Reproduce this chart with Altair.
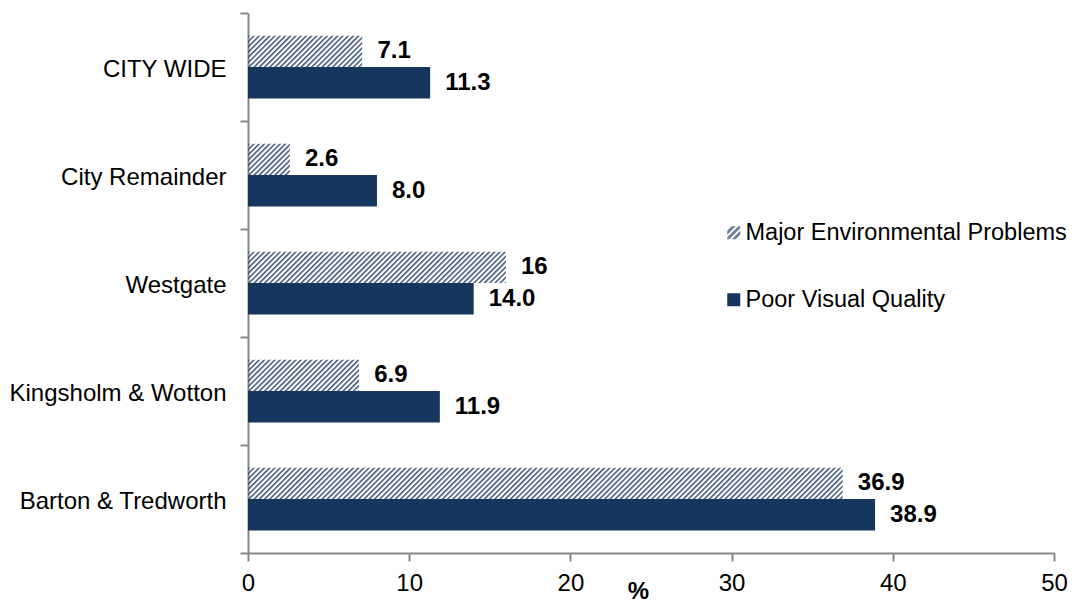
import base64
import altair as alt
import pandas as pd

# ---- data ----
areas = ["CITY WIDE", "City Remainder", "Westgate", "Kingsholm & Wotton", "Barton & Tredworth"]
series = ["Major Environmental Problems", "Poor Visual Quality"]
major_values = [7.1, 2.6, 16, 6.9, 36.9]
poor_values = [11.3, 8.0, 14.0, 11.9, 38.9]
major_labels = ["7.1", "2.6", "16", "6.9", "36.9"]
poor_labels = ["11.3", "8.0", "14.0", "11.9", "38.9"]
x_ticks = [0, 10, 20, 30, 40, 50]

rows = []
for a, v, l in zip(areas, major_values, major_labels):
    rows.append({"area": a, "series": series[0], "value": v, "label": l})
for a, v, l in zip(areas, poor_values, poor_labels):
    rows.append({"area": a, "series": series[1], "value": v, "label": l})
df = pd.DataFrame(rows)

FONT = "Liberation Sans"
NAVY = "#17365d"
GREY = "#888888"
HATCH_COLOR = "#3a5075"

# diagonal hatch drawn as an svg image that fills the bar box without scaling
hatch_svg = (
    "<svg xmlns='http://www.w3.org/2000/svg' width='100%' height='100%'>"
    "<defs><pattern id='h' width='3.7' height='10' patternUnits='userSpaceOnUse' "
    "patternTransform='rotate(45)'>"
    f"<rect x='0' y='0' width='1.5' height='10' fill='{HATCH_COLOR}'/></pattern></defs>"
    "<rect width='100%' height='100%' fill='url(#h)'/></svg>"
)
hatch_url = "data:image/svg+xml;base64," + base64.b64encode(hatch_svg.encode()).decode()

# legend symbol: three diagonal stripes in a unit square
hatch_path = (
    "M-1,-0.3L-0.3,-1L0.3,-1L-1,0.3Z "
    "M-1,0.7L0.7,-1L1,-1L1,-0.7L-0.7,1L-1,1Z "
    "M1,0.3L0.3,1L-0.3,1L1,-0.3Z"
)

x_enc = alt.X(
    "value:Q",
    scale=alt.Scale(domain=[0, 50], nice=False),
    axis=alt.Axis(
        values=x_ticks, title="%", grid=False, format="d", labelFlush=False,
        labelFont=FONT, labelFontSize=24, labelColor="black", labelPadding=10,
        tickSize=8, tickColor=GREY, tickWidth=2,
        domainColor=GREY, domainWidth=2,
        titleFont=FONT, titleFontSize=24, titleFontWeight="bold", titleColor="black",
        titlePadding=-16, titleX=390,
    ),
)
y_enc = alt.Y(
    "area:N",
    sort=areas,
    scale=alt.Scale(paddingInner=0, paddingOuter=0),
    axis=alt.Axis(
        title=None, labelFont=FONT, labelFontSize=24, labelColor="black",
        labelPadding=14, labelLimit=0, labelOffset=2, tickSize=8, tickColor=GREY,
        tickWidth=2, tickBand="extent", domainColor=GREY, domainWidth=2,
    ),
)
yoff_enc = alt.YOffset(
    "series:N", sort=series,
    scale=alt.Scale(domain=series, paddingInner=0, paddingOuter=0.714),
)

base = alt.Chart(df)

poor_bars = base.transform_filter(alt.datum.series == series[1]).mark_bar(color=NAVY).encode(
    x=x_enc, y=y_enc, yOffset=yoff_enc
)
major_hatch = base.transform_filter(alt.datum.series == series[0]).mark_image(aspect=False).encode(
    x=x_enc, y=y_enc, yOffset=yoff_enc, url=alt.value(hatch_url)
)
labels = base.mark_text(
    align="left", baseline="middle", dx=15, font=FONT, fontSize=24,
    fontWeight="bold", color="black",
).encode(x=x_enc, y=y_enc, yOffset=yoff_enc, text="label:N")

legend = alt.Legend(
    title=None, orient="none", legendX=474, legendY=208, padding=0,
    labelFont=FONT, labelFontSize=23.5, labelColor="black", labelOffset=0, labelLimit=0,
    symbolSize=169, symbolOpacity=1, symbolStrokeWidth=0, rowPadding=42,
)
legend_layer = base.mark_point(opacity=0, filled=True).encode(
    x=x_enc, y=y_enc,
    color=alt.Color("series:N", sort=series,
                    scale=alt.Scale(domain=series, range=["#6d7f9c", NAVY]), legend=legend),
    shape=alt.Shape("series:N", sort=series,
                    scale=alt.Scale(domain=series, range=[hatch_path, "square"]), legend=legend),
)

chart = alt.layer(poor_bars, major_hatch, labels, legend_layer).properties(
    width=806,
    height=540,
    autosize=alt.AutoSizeParams(type="none"),
    padding={"left": 240, "top": 5, "right": 16, "bottom": 52},
).configure_view(stroke=None)

chart.save("out.html", embed_options={"renderer": "svg", "actions": False})
